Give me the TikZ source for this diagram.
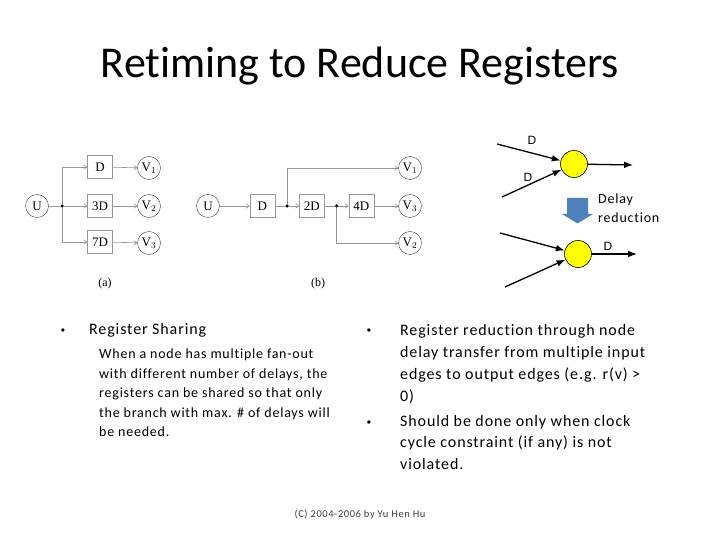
\documentclass[tikz,border=0pt]{standalone}
\usepackage{fontspec}
\setmainfont{Carlito}[Ligatures=NoCommon]
\newfontfamily\bodyfont{Carlito}[Ligatures=NoCommon,LetterSpace=5.5]
\newfontfamily\figfont{Liberation Serif}
\newfontfamily\lblfont{Liberation Sans}
\usepackage{tikz}
\usetikzlibrary{arrows.meta,positioning,calc}
\definecolor{SlideBlue}{RGB}{79,129,189}
\definecolor{NodeYellow}{RGB}{255,255,0}
\definecolor{WireGray}{RGB}{150,150,150}

\begin{document}
\begin{tikzpicture}[x=1pt,y=-1pt,>=Latex,node distance=24pt,every node/.style={inner sep=0pt}]
\tikzset{delaybox/.style={draw=WireGray,minimum width=25pt,minimum height=23pt,font=\figfont\fontsize{13}{13}\selectfont},
  vtx/.style={circle,draw=black!75,minimum size=23pt,font=\figfont\fontsize{13}{13}\selectfont},
  wire/.style={draw=WireGray,line width=0.6pt},
  warrow/.style={wire,-{Straight Barb[length=3pt,width=4.5pt]}},
  junc/.style={circle,fill=black,minimum size=3.5pt},
  gnode/.style={circle,draw=black,fill=NodeYellow,minimum size=27pt,line width=0.6pt},
  flow/.style={->,line width=1.3pt},
  dlbl/.style={font=\lblfont\fontsize{12}{12}\selectfont},
  bul/.style={anchor=base,font=\lblfont\fontsize{12}{12}\selectfont},
  para/.style={anchor=north west,align=left}}
\useasboundingbox (0,0) rectangle (720,540);
\node (title) at (360,66) {\fontsize{44}{44}\selectfont Retiming to Reduce Registers};
% (a) separate delays on each fan-out
\node[vtx] (Ua) at (37,206) {U};
\node[junc] (ja) at (62,206) {};
\node[delaybox] (D1a) at (100,167) {D};
\node[delaybox] (D3a) at (100,206) {3D};
\node[delaybox] (D7a) at (100,242) {7D};
\node[vtx] (V1a) at (149,168) {V$_1$};
\node[vtx] (V2a) at (149,206) {V$_2$};
\node[vtx] (V3a) at (149,243) {V$_3$};
\draw[wire] (Ua)--(ja);
\draw[warrow] (ja) |- (D1a.west); \draw[warrow] (ja)--(D3a); \draw[warrow] (ja) |- (D7a.west);
\draw[warrow] (D1a)--(V1a); \draw[warrow] (D3a)--(V2a); \draw[warrow] (D7a)--(V3a);
\node[font=\figfont\fontsize{12}{12}\selectfont] (capa) at (105,284) {(a)};
% (b) shared delay chain
\node[vtx] (Ub) at (208,206) {U};
\node[delaybox,right=30pt of Ub] (D1b) {D};
\node[delaybox,right=of D1b] (D2b) {2D};
\node[delaybox,right=of D2b] (D4b) {4D};
\node[junc] (jb1) at ($(D1b.east)!.5!(D2b.west)$) {};
\node[junc] (jb2) at ($(D2b.east)!.5!(D4b.west)$) {};
\node[vtx] (V1b) at (410,168) {V$_1$};
\node[vtx] (V3b) at (410,206) {V$_3$};
\node[vtx] (V2b) at (410,243) {V$_2$};
\draw[warrow] (Ub)--(D1b); \draw[wire] (D1b)--(jb1); \draw[warrow] (jb1)--(D2b);
\draw[wire] (D2b)--(jb2); \draw[warrow] (jb2)--(D4b); \draw[warrow] (D4b)--(V3b);
\draw[warrow] (jb1) |- (V1b.west); \draw[warrow] (jb2) |- (V2b.west);
\node[font=\figfont\fontsize{12}{12}\selectfont] (capb) at (318,284) {(b)};
% delay transfer through a node
\node[gnode] (top) at (574,164) {};
\coordinate (inA) at (497,144); \coordinate (inB) at (502,197); \coordinate (outA) at (633,165);
\draw[flow] (inA)--(top); \draw[flow] (inB)--(top); \draw[flow] (top)--(outA);
\node[dlbl] (dA) at (532,140) {D};
\node[dlbl] (dB) at (528,177) {D};
\fill[SlideBlue] (567,198)--(588,198)--(588,214)--(593,214)--(577.5,223.5)--(562,214)--(567,214)--cycle;
\node[anchor=west,align=left,font=\bodyfont\fontsize{14}{19}\selectfont] (red) at (598,208) {Delay\\reduction};
\node[gnode] (bot) at (578,254) {};
\coordinate (inC) at (500,233); \coordinate (inD) at (505,287); \coordinate (outB) at (637,254);
\draw[flow] (inC)--(bot); \draw[flow] (inD)--(bot); \draw[flow] (bot)--(outB);
\node[dlbl] (dC) at (608,246) {D};
% bullet texts
\node[bul] (b1) at (63,334) {•};
\node[anchor=base west,font=\bodyfont\fontsize{16}{16}\selectfont] (share) at (89,334) {Register Sharing};
\node[para,font=\bodyfont\fontsize{14}{19.5}\selectfont] (sharetxt) at (99,349) {When a node has multiple fan-out\\with different number of delays, the\\registers can be shared so that only\\the branch with max. \# of delays will\\be needed.};
\node[bul] (b2) at (369,334) {•};
\node[para,font=\bodyfont\fontsize{16}{22}\selectfont] (redtxt) at (400,324) {Register reduction through node\\delay transfer from multiple input\\edges to output edges (e.g. r(v) >\\0)};
\node[bul] (b3) at (369,426) {•};
\node[para,font=\bodyfont\fontsize{16}{21.5}\selectfont] (clktxt) at (400,415) {Should be done only when clock\\cycle constraint (if any) is not\\violated.};
\node[font=\bodyfont\fontsize{10.5}{10.5}\selectfont,text=black!75] (foot) at (360,515) {(C) 2004-2006 by Yu Hen Hu};
\end{tikzpicture}
\end{document}
